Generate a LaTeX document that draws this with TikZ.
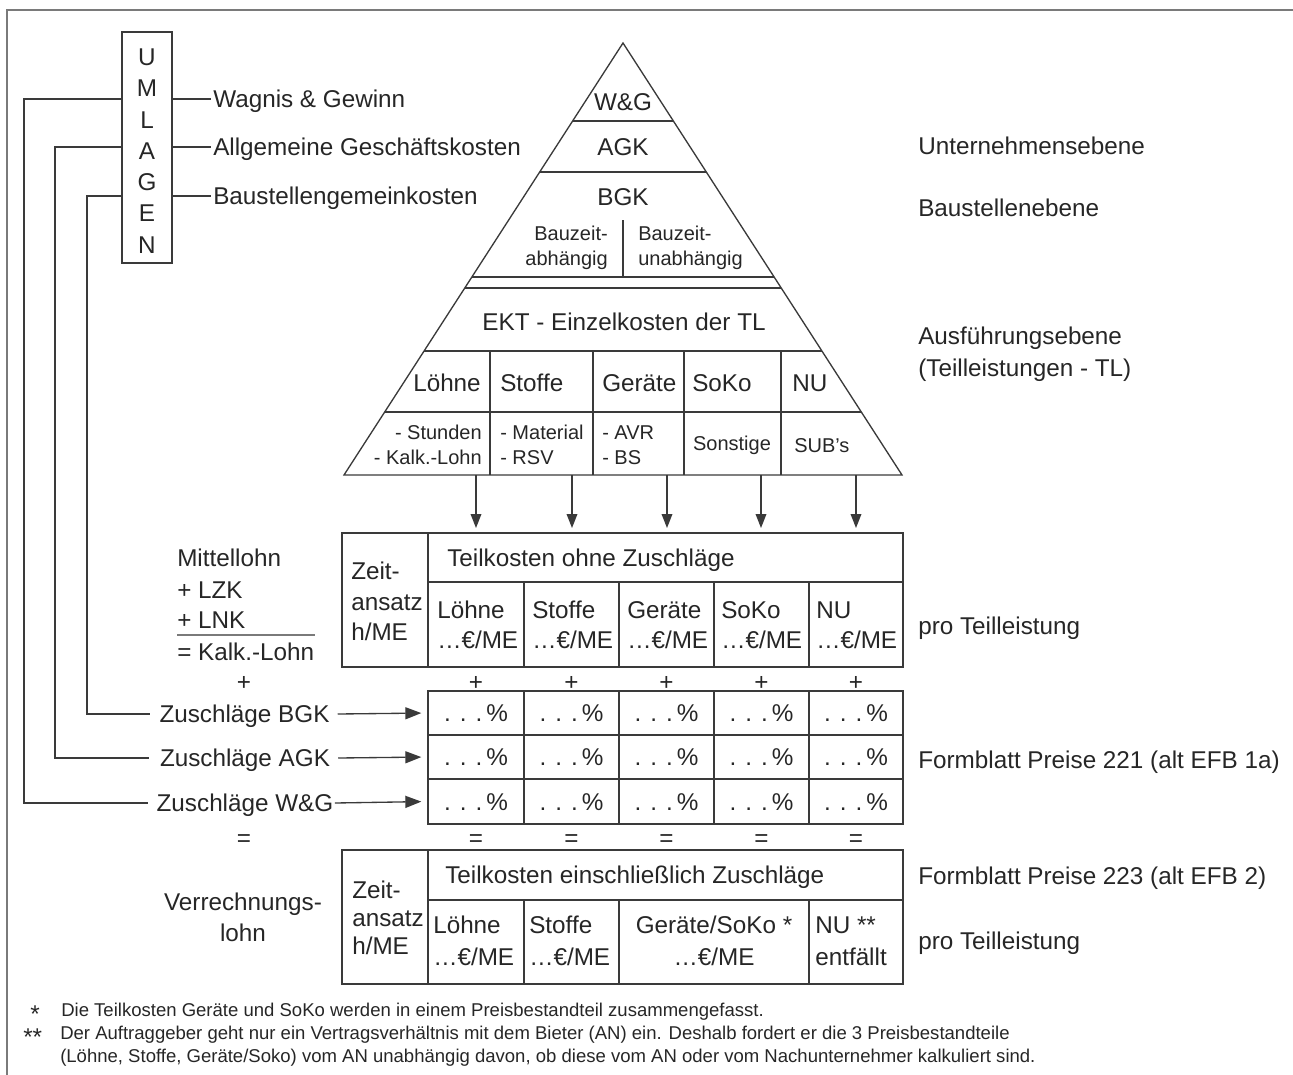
\documentclass[tikz,border=0pt]{standalone}
\usepackage{fontspec}
\setmainfont{Liberation Sans}
\usetikzlibrary{arrows.meta,calc}
\definecolor{tc}{HTML}{262626}
\definecolor{lc}{HTML}{3A3A3A}
\definecolor{fc}{HTML}{7A7A7A}
\newcommand{\mkbox}[5]{%
  \pgfmathsetmacro{\mkbW}{(#4-#2)*0.75}%
  \pgfmathsetmacro{\mkbH}{(#5-#3)*0.75}%
  \node[cellbox,minimum width=\mkbW pt,minimum height=\mkbH pt] (#1) at ({(#2+#4)/2},{(#3+#5)/2}) {};}
\begin{document}
\begin{tikzpicture}[x=0.75pt,y=-0.75pt,
  ln/.style={draw=lc,line width=1pt},
  cellbox/.style={draw=lc,line width=1pt,inner sep=0pt,outer sep=0pt},
  tx/.style={inner sep=0pt,text=tc,font=\fontsize{18.2}{21}\selectfont,text height=13pt,text depth=0pt},
  ts/.style={inner sep=0pt,text=tc,font=\fontsize{15}{18}\selectfont,text height=10.8pt,text depth=0pt},
  tf/.style={inner sep=0pt,text=tc,font=\fontsize{13.9}{16}\selectfont,text height=10pt,text depth=0pt},
  arrh/.style={ln,-{Triangle[length=12pt,width=9pt]}},
  arrv/.style={ln,-{Triangle[length=10.5pt,width=8pt]}},
]
\useasboundingbox (0,0) rectangle (1293,1075);
\draw[draw=fc,line width=1.3pt] (7,10) rectangle (1320,1100);

% ---------------- UMLAGEN box
\node[cellbox,minimum width=37.5pt,minimum height=173.25pt] (uml) at (147,147.5) {};
\foreach \ch/\yy [count=\i] in {U/57,M/88,L/120,A/151,G/182,E/213,N/245}
  \node[tx] (u\i) at (147,\yy) {\ch};

\node[tx,anchor=west] (wg) at (213,99) {Wagnis \& Gewinn};
\node[tx,anchor=west] (ag) at (213,147) {Allgemeine Geschäftskosten};
\node[tx,anchor=west] (bg) at (213,196) {Baustellengemeinkosten};
\draw[ln] (uml.east |- wg) -- ([xshift=-1.5pt]wg.west);
\draw[ln] (uml.east |- ag) -- ([xshift=-1.5pt]ag.west);
\draw[ln] (uml.east |- bg) -- ([xshift=-1.5pt]bg.west);

% ---------------- Zuschlaege labels
\node[tx] (zb) at (244.5,714) {Zuschläge BGK};
\node[tx] (za) at (245,758) {Zuschläge AGK};
\node[tx] (zw) at (245,803) {Zuschläge W\&G};
\draw[ln] (uml.west |- wg) -- ++(-98,0) |- ([xshift=-6pt]zw.west);
\draw[ln] (uml.west |- ag) -- ++(-67,0) |- ([xshift=-8pt]za.west);
\draw[ln] (uml.west |- bg) -- ++(-35,0) |- ([xshift=-7pt]zb.west);

% ---------------- Pyramid
\coordinate (A) at (623,43);
\coordinate (BL) at (344,475);
\coordinate (BR) at (902,475);
\draw[ln,line join=miter] (BL) -- (A) -- (BR) -- cycle;
\foreach \yy in {121,172,277,288,351,412}
  \draw[ln] ($(A)!{(\yy-43)/432}!(BL)$) -- ($(A)!{(\yy-43)/432}!(BR)$);
\draw[ln] (623,220) -- (623,277);
\foreach \xx in {490,593,684,781}
  \draw[ln] (\xx,351) -- (\xx,475);

\node[tx] (pwg) at (623,102) {W\&G};
\node[tx] (pagk) at (623,147) {AGK};
\node[tx] (pbgk) at (623,197) {BGK};
\node[ts,anchor=east] (bz1) at (608,233) {Bauzeit-};
\node[ts,anchor=east] (bz2) at (608,258) {abhängig};
\node[ts,anchor=west] (bz3) at (638,233) {Bauzeit-};
\node[ts,anchor=west] (bz4) at (638,258) {unabhängig};
\node[tx] (ekt) at (624,322) {EKT - Einzelkosten der TL};
\node[tx,anchor=west] (pl) at (413,383) {Löhne};
\node[tx,anchor=west] (ps) at (500,383) {Stoffe};
\node[tx,anchor=west] (pg) at (602,383) {Geräte};
\node[tx,anchor=west] (pk) at (692,383) {SoKo};
\node[tx,anchor=west] (pn) at (792,383) {NU};
\node[ts,anchor=east] (r1) at (482,432) {- Stunden};
\node[ts,anchor=east] (r2) at (482,457) {- Kalk.-Lohn};
\node[ts,anchor=west] (r3) at (500,432) {- Material};
\node[ts,anchor=west] (r4) at (500,457) {- RSV};
\node[ts,anchor=west] (r5) at (602,432) {- AVR};
\node[ts,anchor=west] (r6) at (602,457) {- BS};
\node[ts] (r7) at (732,443) {Sonstige};
\node[ts,anchor=west] (r8) at (794,445) {SUB’s};

% right labels
\node[tx,anchor=west] (e1) at (918,146) {Unternehmensebene};
\node[tx,anchor=west] (e2) at (918,208) {Baustellenebene};
\node[tx,anchor=west] (e3) at (918,336) {Ausführungsebene};
\node[tx,anchor=west] (e4) at (918,368) {(Teilleistungen - TL)};
\node[tx,anchor=west] (e5) at (918,626) {pro Teilleistung};
\node[tx,anchor=west] (e6) at (918,760) {Formblatt Preise 221 (alt EFB 1a)};
\node[tx,anchor=west] (e7) at (918,876) {Formblatt Preise 223 (alt EFB 2)};
\node[tx,anchor=west] (e8) at (918,941) {pro Teilleistung};

% ---------------- Table 1
\mkbox{zt1}{342}{533}{428}{667}
\mkbox{hd1}{428}{533}{903}{582}
\foreach \xa/\xb [count=\i] in {428/524,524/619,619/714,714/809,809/903}
  {\mkbox{ca\i}{\xa}{582}{\xb}{667}}
\node[tx,anchor=west] (zt1a) at (351,571) {Zeit-};
\node[tx,anchor=west] (zt1b) at (351,602) {ansatz};
\node[tx,anchor=west] (zt1c) at (351,632) {h/ME};
\node[tx,anchor=west] (hd1t) at (447,558) {Teilkosten ohne Zuschläge};
\foreach \xx/\nm [count=\i] in {437/Löhne,532/Stoffe,627/Geräte,721/SoKo,816/NU}{
  \node[tx,anchor=west] (cn\i) at (\xx,610) {\nm};
  \node[tx,anchor=west] (ce\i) at (\xx,640) {…€/ME};
}

% arrows pyramid -> table 1
\foreach \xx [count=\i] in {476,572,667,761,856}{
  \coordinate (pb\i) at (\xx,475);
  \draw[arrv,shorten >=3.75pt] (pb\i) -- (pb\i |- hd1.north);
}

% Mittellohn block
\node[tx,anchor=west] (m1) at (177,558) {Mittellohn};
\node[tx,anchor=west] (m2) at (177,590) {+ LZK};
\node[tx,anchor=west] (m3) at (177,620) {+ LNK};
\coordinate (mr1) at (177,635);
\coordinate (mr2) at (315,635);
\draw[draw=fc,line width=1.4pt] (mr1) -- (mr2);
\node[tx,anchor=west] (m4) at (177,652) {= Kalk.-Lohn};
\node[tx] (plus0) at (244,682) {+};
\node[tx] (eq0) at (244,838) {=};

% ---------------- Percent table
\foreach \xa/\xb [count=\i] in {428/524,524/619,619/714,714/809,809/903}{
  \node[tx] (pl\i) at ({(\xa+\xb)/2},682) {+};
  \node[tx] (eq\i) at ({(\xa+\xb)/2},838) {=};
  \foreach \ya/\yb [count=\j] in {691/735,735/779,779/824}{
    \mkbox{p\j\i}{\xa}{\ya}{\xb}{\yb}
    \node[tx] (pt\j\i) at (p\j\i) {. . .\,\%};
  }
}
\draw[arrh,shorten >=5pt] ([xshift=6pt]zb.east) -- (p11.west);
\draw[arrh,shorten >=5pt] ([xshift=6pt]za.east) -- (p21.west);
\draw[arrh,shorten >=5pt] ([xshift=1pt]zw.east) -- (p31.west);

% ---------------- Table 2
\mkbox{zt2}{342}{850}{428}{984}
\mkbox{hd2}{428}{850}{903}{900}
\mkbox{da1}{428}{900}{524}{984}
\mkbox{da2}{524}{900}{619}{984}
\mkbox{da3}{619}{900}{809}{984}
\mkbox{da4}{809}{900}{903}{984}
\node[tx,anchor=west] (zt2a) at (352,890) {Zeit-};
\node[tx,anchor=west] (zt2b) at (352,918) {ansatz};
\node[tx,anchor=west] (zt2c) at (352,946) {h/ME};
\node[tx,anchor=west] (hd2t) at (445,875) {Teilkosten einschließlich Zuschläge};
\node[tx,anchor=west] (dn1) at (433,925) {Löhne};
\node[tx,anchor=west] (de1) at (433,957) {…€/ME};
\node[tx,anchor=west] (dn2) at (529,925) {Stoffe};
\node[tx,anchor=west] (de2) at (529,957) {…€/ME};
\node[tx] (dn3) at (714,925) {Geräte/SoKo *};
\node[tx] (de3) at (714,957) {…€/ME};
\node[tx,anchor=west] (dn4) at (815,925) {NU **};
\node[tx,anchor=west] (de4) at (815,957) {entfällt};
\node[tx] (vl1) at (243,902) {Verrechnungs-};
\node[tx] (vl2) at (243,933) {lohn};

% ---------------- Footnotes
\node[tx,anchor=west] (f1s) at (30,1014) {*};
\node[tf,anchor=west] (f1) at (61,1010) {Die Teilkosten Geräte und SoKo werden in einem Preisbestandteil zusammengefasst.};
\node[tx,anchor=west] (f2s) at (23,1037) {**};
\node[tf,anchor=west] (f2) at (60,1033) {Der Auftraggeber geht nur ein Vertragsverhältnis mit dem Bieter (AN) ein. Deshalb fordert er die 3 Preisbestandteile};
\node[tf,anchor=west] (f3) at (60,1056) {(Löhne, Stoffe, Geräte/Soko) vom AN unabhängig davon, ob diese vom AN oder vom Nachunternehmer kalkuliert sind.};
\end{tikzpicture}
\end{document}
